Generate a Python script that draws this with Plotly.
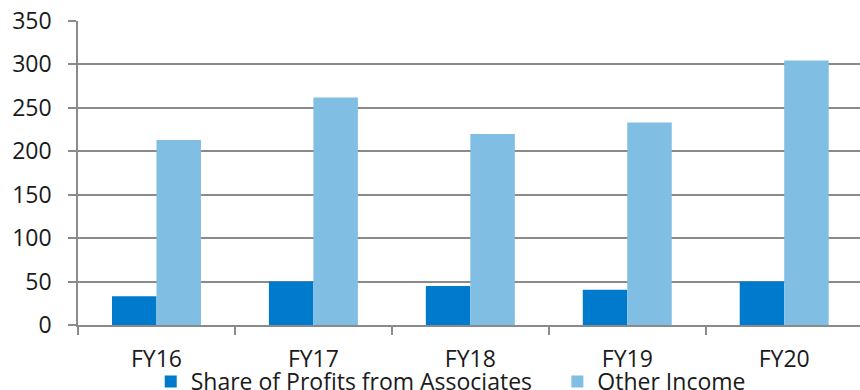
import plotly.graph_objects as go

# Fiscal years and the two income series
years = ["FY16", "FY17", "FY18", "FY19", "FY20"]
share_of_profits = [33, 50, 45, 40.5, 50]
other_income = [213, 262, 220, 233, 304.6]
y_ticks = [0, 50, 100, 150, 200, 250, 300, 350]

DARK_BLUE = "#007ACC"
LIGHT_BLUE = "#80BEE4"
GRID = "#8A8A8A"
FONT = "Open Sans"
TEXT = "#1a1a1a"
SIZE = 23

fig = go.Figure()
fig.add_trace(go.Bar(
    x=years, y=share_of_profits, name="Share of Profits from Associates",
    marker=dict(color=DARK_BLUE, line=dict(width=0)),
    legend="legend",
))
fig.add_trace(go.Bar(
    x=years, y=other_income, name="Other Income",
    marker=dict(color=LIGHT_BLUE, line=dict(width=0)),
    legend="legend2",
))

legend_style = dict(
    orientation="h", y=-0.115, yanchor="top", xanchor="left",
    font=dict(family=FONT, size=SIZE, color=TEXT),
    bgcolor="rgba(0,0,0,0)", itemwidth=30,
)

fig.update_layout(
    width=860, height=390,
    margin=dict(l=78, r=0, t=21, b=65, autoexpand=False),
    paper_bgcolor="white", plot_bgcolor="white",
    barmode="group", bargap=0.433, bargroupgap=0,
    font=dict(family=FONT, size=SIZE, color=TEXT),
    showlegend=True,
    legend=dict(x=0.093, **legend_style),
    legend2=dict(x=0.613, **legend_style),
)
fig.update_xaxes(
    type="category", range=[-0.5, 4.483],
    showgrid=False, showline=True, linecolor=GRID, linewidth=1.5,
    ticks="outside", tickson="boundaries", ticklen=8, tickwidth=1.5, tickcolor=GRID,
    ticklabelstandoff=13,
    tickfont=dict(family=FONT, size=SIZE, color=TEXT),
)
fig.update_yaxes(
    range=[0, 350], tickvals=y_ticks,
    showgrid=True, gridcolor=GRID, gridwidth=1.5,
    showline=True, linecolor=GRID, linewidth=1.5,
    ticks="outside", ticklen=8, tickwidth=1.5, tickcolor=GRID,
    ticklabelstandoff=12,
    tickfont=dict(family=FONT, size=SIZE, color=TEXT),
    zeroline=False,
)

fig.write_html("out.html")
